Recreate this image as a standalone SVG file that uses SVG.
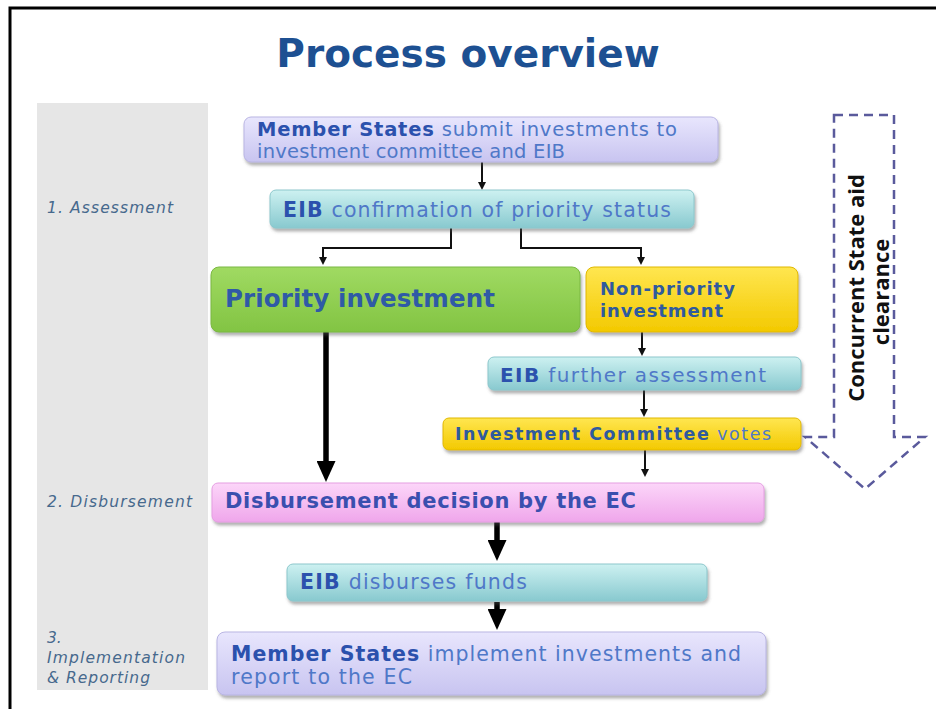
<svg xmlns="http://www.w3.org/2000/svg" width="936" height="709" viewBox="0 0 936 709">
<style>
.t{font-family:"DejaVu Sans","Verdana",sans-serif}
.b{font-weight:bold;fill:#2b51ad}
.n{fill:#4f78c8}
.lbl{font-family:"DejaVu Sans",sans-serif;font-style:italic;font-size:15.5px;fill:#46698d}
.thin{fill:none;stroke:#111;stroke-width:2}
.thick{fill:none;stroke:#000;stroke-width:5.5}
</style>
<defs>
<linearGradient id="gLav" x1="0" y1="0" x2="0" y2="1"><stop offset="0" stop-color="#e8e6fd"/><stop offset="1" stop-color="#c8c4f0"/></linearGradient>
<linearGradient id="gTeal" x1="0" y1="0" x2="0" y2="1"><stop offset="0" stop-color="#cdf1f1"/><stop offset="1" stop-color="#88c9cf"/></linearGradient>
<linearGradient id="gGreen" x1="0" y1="0" x2="0" y2="1"><stop offset="0" stop-color="#a0da62"/><stop offset="1" stop-color="#82c443"/></linearGradient>
<linearGradient id="gYel" x1="0" y1="0" x2="0" y2="1"><stop offset="0" stop-color="#ffe650"/><stop offset="1" stop-color="#f3c900"/></linearGradient>
<linearGradient id="gPink" x1="0" y1="0" x2="0" y2="1"><stop offset="0" stop-color="#fcd6f9"/><stop offset="1" stop-color="#efa6eb"/></linearGradient>
<filter id="sh" x="-10%" y="-20%" width="120%" height="160%"><feDropShadow dx="1.5" dy="3" stdDeviation="1.8" flood-color="#555" flood-opacity="0.45"/></filter>
<marker id="ah" markerUnits="userSpaceOnUse" markerWidth="9" markerHeight="8" refX="1" refY="4" orient="auto"><path d="M0,0 L8,4 L0,8 z" fill="#111"/></marker>
<marker id="AH" markerUnits="userSpaceOnUse" markerWidth="22" markerHeight="19" refX="2" refY="9.5" orient="auto"><path d="M0,0 L21,9.5 L0,19 z" fill="#000"/></marker>
</defs>

<rect width="936" height="709" fill="#fff"/>
<path d="M10,709 V8 H936" fill="none" stroke="#000" stroke-width="3"/>

<rect id="phase-band" x="37" y="103" width="171" height="587" fill="#e6e6e6"/>

<text id="title" class="t" x="468" y="67" text-anchor="middle" font-size="39" font-weight="bold" fill="#1d5092">Process overview</text>

<g id="phase-labels" class="lbl">
<text x="47" y="213" textLength="126">1. Assessment</text>
<text x="47" y="507" textLength="145">2. Disbursement</text>
<text x="47" y="643">3.</text>
<text x="47" y="663" textLength="138">Implementation</text>
<text x="47" y="683" textLength="103">&amp; Reporting</text>
</g>

<g id="state-aid">
<path d="M834,115 H894 V437 H925 L865,489 L805,437 H834 Z" fill="none" stroke="#5a5a9c" stroke-width="2.5" stroke-dasharray="9 6"/>
<text font-family="'Open Sans','Liberation Sans',sans-serif" font-weight="bold" font-size="22" fill="#111" text-anchor="middle" transform="translate(864,288) rotate(-90)">Concurrent State aid</text>
<text font-family="'Open Sans','Liberation Sans',sans-serif" font-weight="bold" font-size="22" fill="#111" text-anchor="middle" transform="translate(889,292) rotate(-90)">clearance</text>
</g>

<g id="connectors">
<path class="thin" d="M482,162 V183" marker-end="url(#ah)"/>
<path class="thin" d="M451,228 V248 H323 V258" marker-end="url(#ah)"/>
<path class="thin" d="M521,228 V248 H641 V258" marker-end="url(#ah)"/>
<path class="thin" d="M642,332 V349" marker-end="url(#ah)"/>
<path class="thin" d="M644,390 V410" marker-end="url(#ah)"/>
<path class="thin" d="M645,450 V470" marker-end="url(#ah)"/>
<path class="thick" d="M326,332 V463" marker-end="url(#AH)"/>
<path class="thick" d="M497,522 V542" marker-end="url(#AH)"/>
<path class="thick" d="M497,602 V611" marker-end="url(#AH)"/>
</g>

<g id="member-states-submit">
<rect x="244" y="117" width="474" height="45" rx="7" fill="url(#gLav)" stroke="#b9b5e3" filter="url(#sh)"/>
<text class="t" x="257" y="136" font-size="19.5" textLength="420"><tspan class="b">Member States</tspan><tspan class="n"> submit investments to</tspan></text>
<text class="t n" x="257" y="158" font-size="19.5" textLength="308">investment committee and EIB</text>
</g>

<g id="eib-confirmation">
<rect x="270" y="190" width="424" height="38" rx="6" fill="url(#gTeal)" stroke="#8cc7cc" filter="url(#sh)"/>
<text class="t" x="283" y="217" font-size="20.5" textLength="388"><tspan class="b">EIB</tspan><tspan class="n"> confirmation of priority status</tspan></text>
</g>

<g id="priority">
<rect x="211" y="267" width="369" height="65" rx="8" fill="url(#gGreen)" stroke="#7ab842" filter="url(#sh)"/>
<text class="t" x="225" y="307" font-size="24.5" font-weight="bold" fill="#2f5aa6" textLength="270">Priority investment</text>
</g>

<g id="non-priority">
<rect x="586" y="267" width="212" height="65" rx="8" fill="url(#gYel)" stroke="#e0b800" filter="url(#sh)"/>
<text class="t" x="600" y="295" font-size="18" font-weight="bold" fill="#2f5a9e" textLength="135">Non-priority</text>
<text class="t" x="600" y="317" font-size="18" font-weight="bold" fill="#2f5a9e" textLength="123">investment</text>
</g>

<g id="eib-further">
<rect x="488" y="357" width="313" height="33" rx="6" fill="url(#gTeal)" stroke="#8cc7cc" filter="url(#sh)"/>
<text class="t" x="500" y="382" font-size="20" textLength="266"><tspan class="b">EIB</tspan><tspan class="n"> further assessment</tspan></text>
</g>

<g id="committee-votes">
<rect x="443" y="418" width="358" height="32" rx="6" fill="url(#gYel)" stroke="#e0b800" filter="url(#sh)"/>
<text class="t" x="455" y="440" font-size="17.5" textLength="316"><tspan font-weight="bold" fill="#2f5a9e">Investment Committee</tspan><tspan class="n"> votes</tspan></text>
</g>

<g id="disbursement-decision">
<rect x="212" y="483" width="552" height="39" rx="6" fill="url(#gPink)" stroke="#e59ee2" filter="url(#sh)"/>
<text class="t" x="225" y="508" font-size="21" font-weight="bold" fill="#3a4fae" textLength="411">Disbursement decision by the EC</text>
</g>

<g id="eib-disburses">
<rect x="287" y="564" width="420" height="37" rx="6" fill="url(#gTeal)" stroke="#8cc7cc" filter="url(#sh)"/>
<text class="t" x="300" y="589" font-size="20.5" textLength="227"><tspan class="b">EIB</tspan><tspan class="n"> disburses funds</tspan></text>
</g>

<g id="member-states-implement">
<rect x="217" y="632" width="549" height="63" rx="8" fill="url(#gLav)" stroke="#b9b5e3" filter="url(#sh)"/>
<text class="t" x="231" y="661" font-size="20.5" textLength="510"><tspan class="b">Member States</tspan><tspan class="n"> implement investments and</tspan></text>
<text class="t n" x="231" y="684" font-size="20.5" textLength="181">report to the EC</text>
</g>
</svg>
